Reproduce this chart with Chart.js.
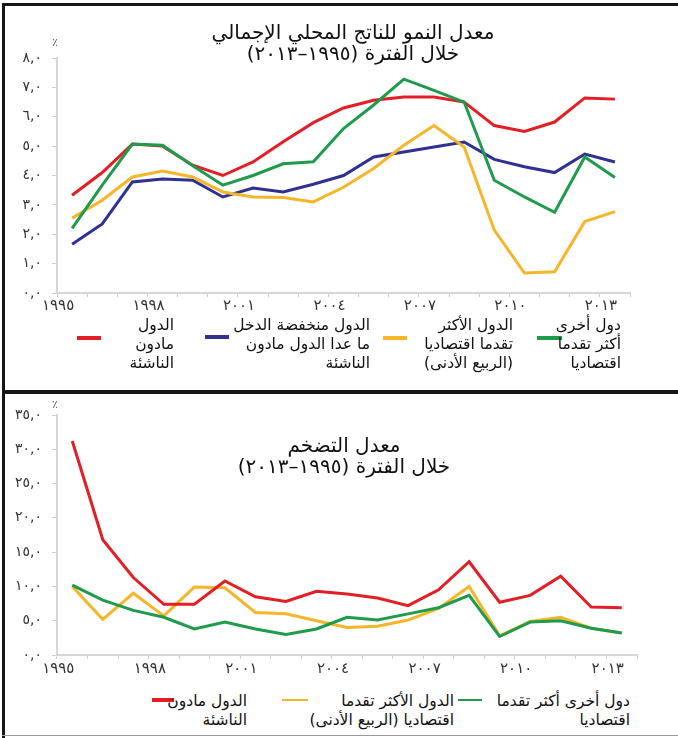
<!DOCTYPE html>
<html lang="ar">
<head>
<meta charset="utf-8">
<script src="https://cdn.jsdelivr.net/npm/chart.js@4.4.0/dist/chart.umd.min.js"></script>
<style>
  body { margin: 0; width: 678px; height: 738px; position: relative; overflow: hidden; background: #fff; font-family: "DejaVu Sans", sans-serif; }
  canvas { position: absolute; left: 0; }
  .rule { position: absolute; background: #161616; }
  .title { position: absolute; direction: rtl; text-align: center; font-size: 20px; line-height: 21px; color: #111; white-space: nowrap; }
  .leg { position: absolute; direction: rtl; text-align: right; font-size: 15.5px; line-height: 19px; color: #111; white-space: nowrap; }
  .mark { position: absolute; }
  .pct { position: absolute; font-size: 11px; color: #555; }
</style>
</head>
<body>
<div class="rule" style="left:2px;top:3px;width:676px;height:3px"></div>
<div class="rule" style="left:2px;top:3px;width:3px;height:735px"></div>
<div class="rule" style="left:2px;top:390px;width:676px;height:4px"></div>
<div class="rule" style="left:2px;top:735px;width:676px;height:1px;background:#999"></div>

<canvas id="gdp" width="678" height="320" style="top:0"></canvas>
<canvas id="inflation" width="678" height="295" style="top:395px"></canvas>

<div class="title" style="left:153px;width:400px;top:22px">معدل النمو للناتج المحلي الإجمالي<br>خلال الفترة (١٩٩٥–٢٠١٣)</div>
<div class="pct" style="left:52px;top:36px">٪</div>

<div class="mark" style="left:77px;width:24px;top:336px;height:4px;background:#e31e24"></div>
<div class="leg" style="right:504px;top:316px">الدول<br>مادون<br>الناشئة</div>
<div class="mark" style="left:205px;width:24px;top:335px;height:4px;background:#2e3192"></div>
<div class="leg" style="right:308px;top:316px">الدول منخفضة الدخل<br>ما عدا الدول مادون<br>الناشئة</div>
<div class="mark" style="left:383px;width:24px;top:336px;height:4px;background:#f5b629"></div>
<div class="leg" style="right:165px;top:316px">الدول الأكثر<br>تقدما اقتصاديا<br>(الربيع الأدنى)</div>
<div class="mark" style="left:537px;width:25px;top:336px;height:4px;background:#1f9b4c"></div>
<div class="leg" style="right:57px;top:316px">دول أخرى<br>أكثر تقدما<br>اقتصاديا</div>

<div class="title" style="left:144px;width:400px;top:435px">معدل التضخم<br>خلال الفترة (١٩٩٥–٢٠١٣)</div>
<div class="pct" style="left:52px;top:398px">٪</div>

<div class="mark" style="left:152px;width:22px;top:698px;height:4px;background:#e31e24"></div>
<div class="leg" style="right:431px;top:692px">الدول مادون<br>الناشئة</div>
<div class="mark" style="left:282px;width:26px;top:699px;height:2px;background:#f5b629"></div>
<div class="leg" style="right:224px;top:692px">الدول الأكثر تقدما<br>اقتصاديا (الربيع الأدنى)</div>
<div class="mark" style="left:458px;width:24px;top:699px;height:2px;background:#1f9b4c"></div>
<div class="leg" style="right:48px;top:692px">دول أخرى أكثر تقدما<br>اقتصاديا</div>

<script>
// السنوات 1995-2013
const years = ['١٩٩٥', '١٩٩٦', '١٩٩٧', '١٩٩٨', '١٩٩٩', '٢٠٠٠', '٢٠٠١', '٢٠٠٢', '٢٠٠٣', '٢٠٠٤',
  '٢٠٠٥', '٢٠٠٦', '٢٠٠٧', '٢٠٠٨', '٢٠٠٩', '٢٠١٠', '٢٠١١', '٢٠١٢', '٢٠١٣'];

// معدل النمو للناتج المحلي الإجمالي (%)
const gdpFrontier = [3.33, 4.1, 5.07, 5.0, 4.35, 4.0, 4.46, 5.15, 5.8, 6.3, 6.56, 6.67, 6.67, 6.5, 5.7, 5.5, 5.82, 6.64, 6.6];
const gdpLowIncome = [1.66, 2.35, 3.78, 3.88, 3.84, 3.27, 3.57, 3.44, 3.7, 4.0, 4.63, 4.8, 4.97, 5.14, 4.55, 4.3, 4.1, 4.73, 4.46];
const gdpAdvancedLow = [2.55, 3.16, 3.95, 4.15, 3.95, 3.44, 3.27, 3.25, 3.1, 3.6, 4.24, 5.03, 5.7, 4.97, 2.14, 0.68, 0.72, 2.43, 2.77];
const gdpOtherAdvanced = [2.2, 3.67, 5.07, 5.03, 4.33, 3.67, 4.0, 4.4, 4.47, 5.6, 6.4, 7.28, 6.9, 6.5, 3.84, 3.27, 2.75, 4.63, 3.93];
const gdpTicks = ['٠,٠', '١,٠', '٢,٠', '٣,٠', '٤,٠', '٥,٠', '٦,٠', '٧,٠', '٨,٠'];

// معدل التضخم (%)
const infFrontier = [31.2, 16.8, 11.3, 7.4, 7.4, 10.8, 8.5, 7.8, 9.3, 8.9, 8.3, 7.2, 9.5, 13.6, 7.7, 8.7, 11.5, 7.0, 6.9];
const infAdvancedLow = [10.0, 5.2, 9.0, 5.7, 9.9, 9.8, 6.2, 6.0, 5.0, 4.0, 4.2, 5.1, 6.8, 10.0, 2.8, 4.9, 5.5, 3.9, 3.2];
const infOtherAdvanced = [10.2, 8.0, 6.5, 5.5, 3.8, 4.8, 3.8, 3.0, 3.8, 5.5, 5.1, 6.0, 6.9, 8.7, 2.7, 4.8, 5.0, 3.9, 3.2];
const infTicks = ['٠,٠', '٥,٠', '١٠,٠', '١٥,٠', '٢٠,٠', '٢٥,٠', '٣٠,٠', '٣٥,٠'];

const RED = '#e31e24', BLUE = '#2e3192', YELLOW = '#f5b629', GREEN = '#1f9b4c';
const xFont = { family: 'DejaVu Sans', size: 15 };
const yFont = { family: 'DejaVu Sans', size: 14 };

function line(data, color) {
    return { data: data, borderColor: color, borderWidth: 3, pointRadius: 0, tension: 0, fill: false };
}

function xScale(height, pad) {
    return {
        offset: true,
        grid: { offset: true, drawOnChartArea: false, color: '#cfcfcf', tickLength: 4 },
        border: { color: '#d6d6d6', width: 2 },
        ticks: {
            autoSkip: false, maxRotation: 0, labelOffset: -14, padding: pad,
            color: '#333', font: xFont,
            callback: (v, i) => i % 3 === 0 ? years[i] : ''
        },
        afterFit: s => { s.height = height; }
    };
}

function yScale(max, step, labels) {
    return {
        min: 0, max: max,
        grid: { drawOnChartArea: false, color: '#cfcfcf', tickLength: 5 },
        border: { color: '#d6d6d6', width: 2 },
        ticks: {
            stepSize: step, padding: 10, color: '#333', font: yFont,
            callback: v => labels[Math.round(v / step)]
        },
        afterFit: s => { s.width = 57; }
    };
}

new Chart(document.getElementById('gdp'), {
    type: 'line',
    data: {
        labels: years,
        datasets: [
            line(gdpOtherAdvanced, GREEN),
            line(gdpFrontier, RED),
            line(gdpAdvancedLow, YELLOW),
            line(gdpLowIncome, BLUE)
        ]
    },
    options: {
        responsive: false,
        animation: false,
        layout: { padding: { top: 58, right: 48, left: 0, bottom: 0 } },
        plugins: { legend: { display: false }, tooltip: { enabled: false } },
        scales: { x: xScale(27, 0), y: yScale(8, 1, gdpTicks) }
    }
});

new Chart(document.getElementById('inflation'), {
    type: 'line',
    data: {
        labels: years,
        datasets: [
            line(infFrontier, RED),
            line(infOtherAdvanced, GREEN),
            line(infAdvancedLow, YELLOW)
        ]
    },
    options: {
        responsive: false,
        animation: false,
        layout: { padding: { top: 20, right: 41, left: 0, bottom: 0 } },
        plugins: { legend: { display: false }, tooltip: { enabled: false } },
        scales: { x: xScale(35, 1), y: yScale(35, 5, infTicks) }
    }
});
</script>
</body>
</html>
